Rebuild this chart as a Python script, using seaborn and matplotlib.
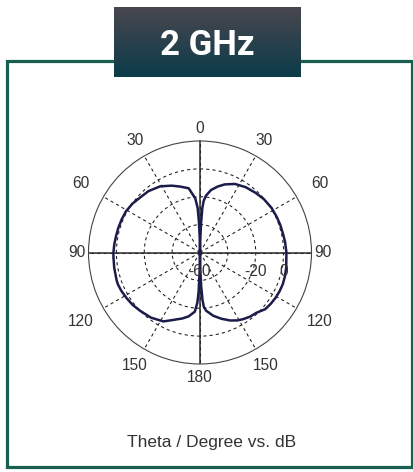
import numpy as np
import pandas as pd
import matplotlib
matplotlib.use('Agg')
import matplotlib.pyplot as plt
import matplotlib.transforms as mtransforms
from matplotlib.colors import LinearSegmentedColormap
from matplotlib.patches import Rectangle
import seaborn as sns

# Pattern data (theta measured clockwise from top, degrees) and gain in dB
theta_deg = [0, 1, 2, 3, 4, 6, 10, 15, 20, 27, 35, 43, 50, 58, 65, 71, 78,
             83, 90, 100, 106, 111, 116, 121, 126, 131, 137, 142, 147, 151,
             156, 162, 168, 174, 176, 177, 178, 179, 180,
             181, 182, 183, 185, 190, 195, 203, 208, 213, 217, 226, 232, 238,
             244, 249, 252, 260, 267, 270, 275, 281, 287, 293, 299, 306, 314,
             320, 329, 337, 343, 350, 355, 357, 358, 359, 360]
gain_db = [-60, -52, -40, -28, -23, -19, -14.5, -11, -8, -4.8, -2.8, -1.5,
           -0.3, 0.5, 0.7, 0.9, 1.1, 1.5, 2.0, 2.8, 3.3, 3.6, 3.5, 3.2, 2.7,
           2.0, -0.8, -1.6, -3.0, -4.3, -6.6, -10, -13.5, -18, -21, -26, -36,
           -48, -60,
           -48, -32, -24, -17.4, -13.5, -11, -7.2, -4.0, -2.8, -1.5, 0, 1.2,
           2.0, 2.8, 3.2, 3.0, 2.5, 2.2, 2.1, 1.8, 1.4, 1.2, 1.0, 0.8, -0.2,
           -1.9, -2.5, -4.6, -7.9, -10.5, -13.2, -21, -28, -38, -50, -60]

angle_ticks = [0, 30, 60, 90, 120, 150, 180, 210, 240, 270, 300, 330]
angle_labels = ['0', '30', '60', '90', '120', '150', '180', '150', '120', '90', '60', '30']
ring_values = [-40, -20, 0]
r_labels = [-60, -20, 0]
r_min, r_max = -60, 20

title_text = '2 GHz'
caption = 'Theta / Degree vs. dB'

df = pd.DataFrame({'theta': np.deg2rad(theta_deg), 'gain': gain_db})

sns.set_style('white')
plt.rcParams['font.family'] = ['Liberation Sans', 'DejaVu Sans']

W, H = 414, 472
fig = plt.figure(figsize=(W / 100, H / 100), dpi=100)
fig.patch.set_facecolor('white')

# green frame
frame = Rectangle((7.5 / W, 1 - 467 / H), (412 - 7.5) / W, (467 - 61) / H,
                  transform=fig.transFigure, fill=False, ec='#17604f', lw=2.3, zorder=0)
fig.add_artist(frame)

# polar chart
cx, cy, R = 200, 252.5, 111.5
ax = fig.add_axes([(cx - R) / W, (H - cy - R) / H, 2 * R / W, 2 * R / H], projection='polar')
ax.set_theta_zero_location('N')
ax.set_theta_direction(-1)
ax.set_ylim(r_min, r_max)
ax.set_facecolor('white')

ax.set_xticks(np.deg2rad(angle_ticks))
ax.set_xticklabels([])
ax.set_yticks(ring_values)
ax.set_yticklabels([])
ax.grid(True, color='#1a1a1a', linestyle=(0, (3, 3)), linewidth=0.75)
ax.spines['polar'].set_color('#444444')
ax.spines['polar'].set_linewidth(0.8)
for a in [0, 90, 180, 270]:
    ax.axvline(np.deg2rad(a), color='#2a2a2a', lw=1.1, zorder=2)

sns.lineplot(data=df, x='theta', y='gain', ax=ax, sort=False, estimator=None,
             color='#1c1c4a', lw=1.8, zorder=3)
ax.set_xlabel('')
ax.set_ylabel('')

# angle labels around the rim (distance in px from the centre)
label_px = {0: 124, 30: 129, 60: 138, 90: 123, 120: 138, 150: 131, 180: 125}
px_per_db = R / (r_max - r_min)
for a, lab in zip(angle_ticks, angle_labels):
    key = a if a <= 180 else 360 - a
    rr = r_min + label_px[key] / px_per_db
    ax.text(np.deg2rad(a), rr, lab, ha='center', va='center', fontsize=11.2,
            color='#333333', clip_on=False)

# radial labels, below the horizontal axis
shift = mtransforms.ScaledTranslation(0, -19 / 100, fig.dpi_scale_trans)
for v in r_labels:
    ax.text(np.pi / 2, v, str(v), ha='center', va='center', fontsize=11.2,
            color='#333333', transform=ax.transData + shift, zorder=4)

# title badge with gradient
tax = fig.add_axes([114 / W, 1 - 77 / H, (301 - 114) / W, 70 / H], zorder=5)
grad = np.linspace(0, 1, 100).reshape(-1, 1)
cmap = LinearSegmentedColormap.from_list('badge', ['#48474f', '#0c3b4a'])
tax.imshow(grad, aspect='auto', cmap=cmap, extent=[0, 1, 0, 1], origin='upper')
tax.set_axis_off()
tax.text(0.5, 0.31, title_text, ha='center', va='baseline', color='white',
         fontsize=25, fontweight='bold', family=['Roboto', 'DejaVu Sans'],
         transform=tax.transAxes)

fig.text(212 / W, 1 - 446.5 / H, caption, ha='center', va='baseline',
         fontsize=12.5, color='#333333')

fig.savefig('out.png', dpi=100)
